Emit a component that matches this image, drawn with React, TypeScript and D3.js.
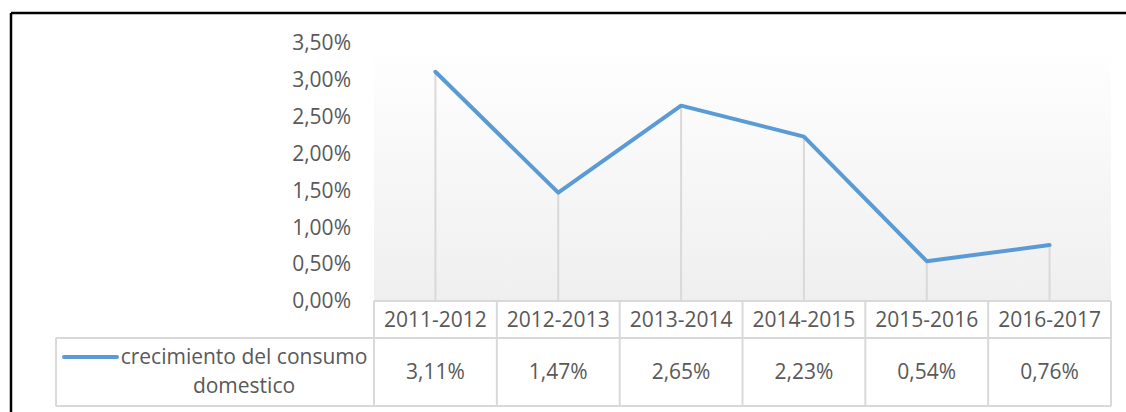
import React from "react";
import * as d3 from "d3";

const categories = ["2011-2012", "2012-2013", "2013-2014", "2014-2015", "2015-2016", "2016-2017"];
const values = [3.11, 1.47, 2.65, 2.23, 0.54, 0.76];
const valueLabels = ["3,11%", "1,47%", "2,65%", "2,23%", "0,54%", "0,76%"];
const yTicks = [0, 0.5, 1, 1.5, 2, 2.5, 3, 3.5];
const seriesName = ["crecimiento del consumo", "domestico"];

const W = 1126;
const H = 412;
const plotL = 374;
const plotR = 1111;
const plotTop = 43;
const base = 301;
const row1B = 338;
const row2B = 406;
const legendL = 56;
const font = "'Open Sans', sans-serif";
const textColor = "#595959";
const gridColor = "#d9d9d9";
const blue = "#5b9bd5";
const fs = 21;

export default function App() {
  const x = d3.scaleBand().domain(categories).range([plotL, plotR]);
  const y = d3.scaleLinear().domain([0, 3.5]).range([base, plotTop]);
  const fmt = (v: number) => d3.format(".2f")(v).replace(".", ",") + "%";
  const cx = (c: string) => (x(c) as number) + x.bandwidth() / 2;
  const line = d3
    .line<number>()
    .x((_, i) => cx(categories[i]))
    .y((d) => y(d));

  return (
    <svg
      width={W}
      height={H}
      style={{ position: "absolute", left: 0, top: 0, display: "block", background: "#fff" }}
      fontFamily={font}
    >
      <defs>
        <linearGradient id="pg" x1="0" y1="0" x2="0" y2="1">
          <stop offset="0" stopColor="#ffffff" />
          <stop offset="1" stopColor="#efefef" />
        </linearGradient>
      </defs>
      <rect x={plotL} y={plotTop} width={plotR - plotL} height={base - plotTop} fill="url(#pg)" />
      {yTicks.map((t) => (
        <text key={t} x={351} y={y(t)} dy="0.35em" textAnchor="end" fontSize={fs} fill={textColor}>
          {fmt(t)}
        </text>
      ))}
      {categories.map((c, i) => (
        <line key={c} x1={cx(c)} x2={cx(c)} y1={y(values[i])} y2={base} stroke={gridColor} strokeWidth={2} />
      ))}
      <path d={line(values) || ""} fill="none" stroke={blue} strokeWidth={4} strokeLinejoin="round" strokeLinecap="round" />
      <g stroke={gridColor} strokeWidth={2} fill="none">
        <line x1={plotL} x2={plotR} y1={base} y2={base} />
        <line x1={legendL} x2={plotR} y1={row1B} y2={row1B} />
        <line x1={legendL} x2={plotR} y1={row2B} y2={row2B} />
        <line x1={legendL} x2={legendL} y1={row1B} y2={row2B} />
        {categories.map((c) => (
          <line key={c} x1={x(c) as number} x2={x(c) as number} y1={base} y2={row2B} />
        ))}
        <line x1={plotR} x2={plotR} y1={base} y2={row2B} />
      </g>
      {categories.map((c, i) => (
        <g key={c}>
          <text x={cx(c)} y={(base + row1B) / 2} dy="0.35em" textAnchor="middle" fontSize={fs} fill={textColor}>
            {c}
          </text>
          <text x={cx(c)} y={(row1B + row2B) / 2} dy="0.35em" textAnchor="middle" fontSize={fs} fill={textColor}>
            {valueLabels[i]}
          </text>
        </g>
      ))}
      <line x1={64} x2={117} y1={357} y2={357} stroke={blue} strokeWidth={4} strokeLinecap="round" />
      <text x={244} y={357} dy="0.35em" textAnchor="middle" fontSize={fs} fill={textColor}>
        {seriesName[0]}
      </text>
      <text x={244} y={386} dy="0.35em" textAnchor="middle" fontSize={fs} fill={textColor}>
        {seriesName[1]}
      </text>
      <line x1={11} x2={W} y1={13} y2={13} stroke="#000" strokeWidth={2.5} />
      <line x1={11} x2={11} y1={13} y2={H} stroke="#000" strokeWidth={2.5} />
    </svg>
  );
}
